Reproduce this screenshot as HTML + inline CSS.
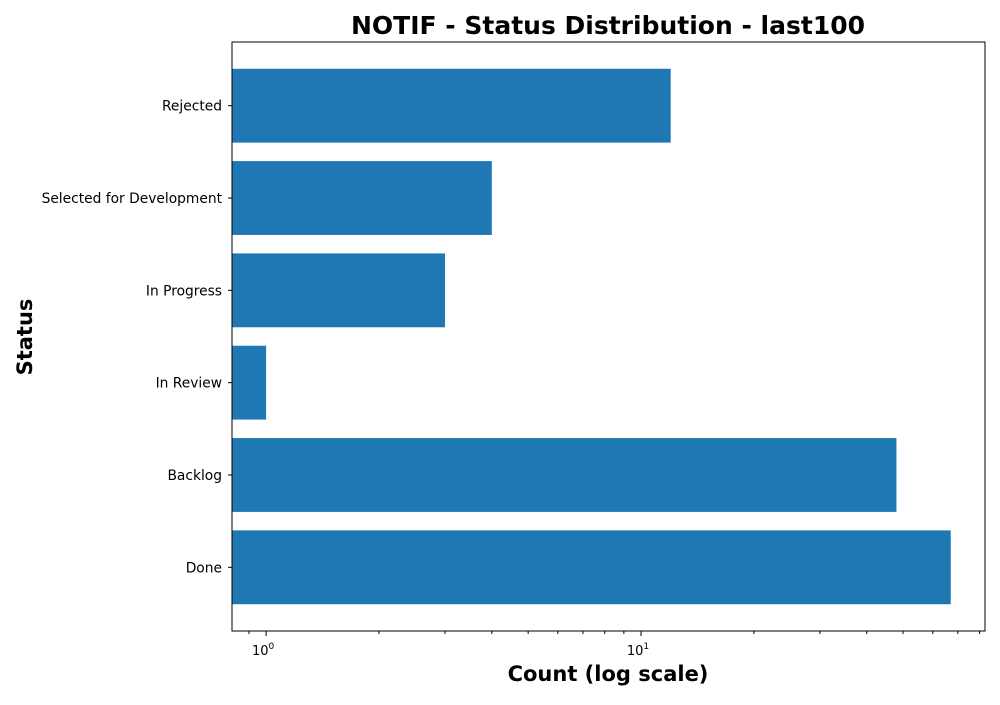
<!DOCTYPE html>
<html><head><meta charset="utf-8"><style>
body{margin:0;background:#fff;font-family:"Liberation Sans","DejaVu Sans",sans-serif;}
svg text{font-family:"DejaVu Sans","Liberation Sans",sans-serif;}
</style></head><body>
<svg id="chart" width="1000" height="700">
<text x="608" y="34" text-anchor="middle" font-size="25" font-weight="bold">NOTIF - Status Distribution - last100</text>
<text x="608" y="681" text-anchor="middle" font-size="21" font-weight="bold">Count (log scale)</text>
<text x="32" y="337" text-anchor="middle" font-size="21" font-weight="bold" transform="rotate(-90 32 337)">Status</text>
<g id="plot"></g>
</svg>
<script>
const categories=["Done","Backlog","In Review","In Progress","Selected for Development","Rejected"];
const counts=[67,48,1,3,4,12];
const majorTicks=[1,10];
const majorLabels=["0","1"];
const L=232,R=985,T=42,B=631;
const xmin=0.811,xmax=82.7;
const ymin=-0.69,ymax=5.69;
function xs(v){return L+(Math.log10(v)-Math.log10(xmin))/(Math.log10(xmax)-Math.log10(xmin))*(R-L);}
function ys(i){return B-(i-ymin)/(ymax-ymin)*(B-T);}
const g=document.getElementById('plot');const NS="http://www.w3.org/2000/svg";
function mk(t,a){const e=document.createElementNS(NS,t);for(const k in a)e.setAttribute(k,a[k]);g.appendChild(e);return e;}
const bw=(B-T)/(ymax-ymin)*0.8;
categories.forEach((c,i)=>{
 const r=mk('rect',{x:L,y:ys(i)-bw/2,width:xs(counts[i])-L,height:bw,fill:'#1f77b4'});
 
 
 mk('line',{x1:L,x2:L-4,y1:ys(i),y2:ys(i),stroke:'#000'});
 const t=mk('text',{x:L-10,y:ys(i)+5,'text-anchor':'end','font-size':13.8});t.textContent=c;
 
 
});
majorTicks.forEach((v,i)=>{
 const x=xs(v);mk('line',{x1:x,x2:x,y1:B,y2:B+5,stroke:'#000'});
 const t=mk('text',{x:x-3,y:B+24,'text-anchor':'middle','font-size':13});t.textContent='10';
 const s=mk('tspan',{dy:-6,'font-size':9});s.textContent=majorLabels[i];t.appendChild(s);
 
 
});
for(let d=0.1;d<=10;d*=10){for(let m=2;m<=9;m++){const v=m*d;if(v>xmin&&v<xmax){const x=xs(v);mk('line',{x1:x,x2:x,y1:B,y2:B+3,stroke:'#000'});}}}
const f=mk('rect',{x:L,y:T,width:R-L,height:B-T,fill:'none',stroke:'#000'});


</script>
</body></html>
